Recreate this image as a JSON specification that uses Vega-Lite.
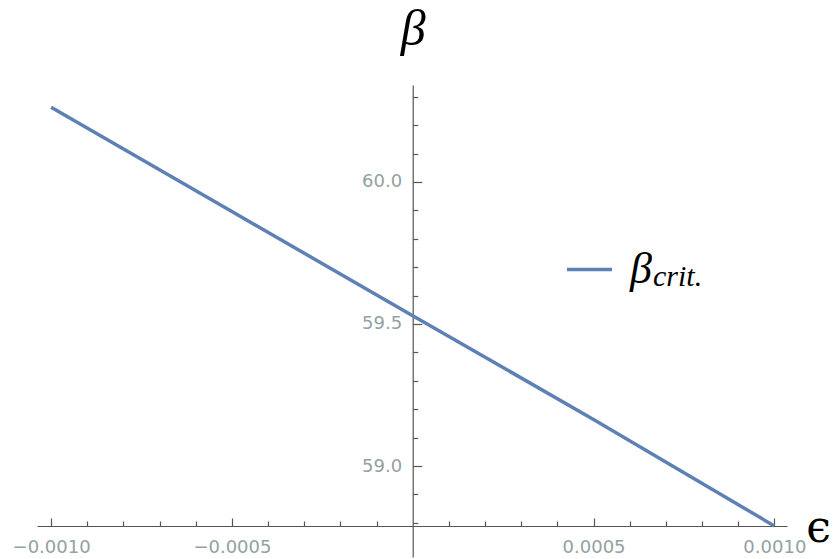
{
  "$schema": "https://vega.github.io/schema/vega-lite/v6.json",
  "width": 750,
  "height": 472,
  "autosize": "none",
  "padding": {"left": 37, "top": 85, "right": 47, "bottom": 2},
  "background": "white",
  "config": {
    "view": {"stroke": null},
    "axis": {
      "grid": false,
      "labelFont": "DejaVu Sans",
      "labelFontSize": 18,
      "labelColor": "#93a1a1",
      "domainColor": "#555555",
      "tickColor": "#555555",
      "domainWidth": 1.2,
      "tickWidth": 1.2
    }
  },
  "data": {
    "values": [
      {"eps": -0.001, "beta": 60.263},
      {"eps": -0.0005, "beta": 59.896},
      {"eps": 0, "beta": 59.529},
      {"eps": 0.0005, "beta": 59.164},
      {"eps": 0.001, "beta": 58.789}
    ]
  },
  "resolve": {"axis": {"x": "independent", "y": "independent"}},
  "layer": [
    {
      "mark": {"type": "line", "color": "#5e81b5", "strokeWidth": 3.5, "clip": false},
      "encoding": {
        "x": {
          "field": "eps", "type": "quantitative",
          "scale": {"domain": [-0.001039, 0.001035], "nice": false, "zero": false},
          "axis": {
            "orient": "bottom", "offset": -31,
            "values": [-0.001, -0.0005, 0.0005, 0.001],
            "format": ".4f",
            "tickSize": -8,
            "labelPadding": 20,
            "title": "ϵ",
            "titleFont": "DejaVu Serif",
            "titleFontSize": 44,
            "titleFontWeight": "normal",
            "titleColor": "black",
            "titleAngle": 0,
            "titleAlign": "center",
            "titleBaseline": "alphabetic",
            "titleX": 781,
            "titleY": 15
          }
        },
        "y": {
          "field": "beta", "type": "quantitative",
          "scale": {"domain": [58.6796, 60.3415], "nice": false, "zero": false},
          "axis": {
            "orient": "left", "offset": -375.7,
            "values": [59.0, 59.5, 60.0],
            "format": ".1f",
            "tickSize": -9,
            "labelPadding": 20,
            "title": "β",
            "titleFont": "Liberation Serif",
            "titleFontStyle": "italic",
            "titleFontSize": 50,
            "titleFontWeight": "normal",
            "titleColor": "black",
            "titleAngle": 0,
            "titleAlign": "center",
            "titleBaseline": "alphabetic",
            "titleX": 0,
            "titleY": -41
          }
        },
        "color": {
          "datum": "β",
          "type": "nominal",
          "scale": {"range": ["#5e81b5"]},
          "legend": {
            "orient": "none",
            "legendX": 528,
            "legendY": 160,
            "padding": 0,
            "symbolType": "stroke",
            "symbolSize": 2025,
            "symbolStrokeWidth": 3.5,
            "labelFont": "Liberation Serif",
            "labelFontStyle": "italic",
            "labelFontSize": 44,
            "labelColor": "black",
            "labelOffset": 16,
            "title": "crit.",
            "titleOrient": "right",
            "titleAnchor": "end",
            "titleFont": "Liberation Serif",
            "titleFontStyle": "italic",
            "titleFontSize": 30,
            "titleFontWeight": "normal",
            "titleColor": "black",
            "titlePadding": 1
          }
        }
      }
    },
    {
      "mark": {"type": "line", "opacity": 0},
      "encoding": {
        "x": {
          "field": "eps", "type": "quantitative",
          "axis": {
            "orient": "bottom", "offset": -31,
            "values": [-0.0009, -0.0008, -0.0007, -0.0006, -0.0004, -0.0003, -0.0002, -0.0001, 0.0001, 0.0002, 0.0003, 0.0004, 0.0006, 0.0007, 0.0008, 0.0009],
            "tickSize": -5,
            "labels": false,
            "domain": false,
            "title": null
          }
        },
        "y": {
          "field": "beta", "type": "quantitative",
          "axis": {
            "orient": "left", "offset": -375.7,
            "values": [58.8, 58.9, 59.1, 59.2, 59.3, 59.4, 59.6, 59.7, 59.8, 59.9, 60.1, 60.2, 60.3],
            "tickSize": -5,
            "labels": false,
            "domain": false,
            "title": null
          }
        }
      }
    }
  ]
}
